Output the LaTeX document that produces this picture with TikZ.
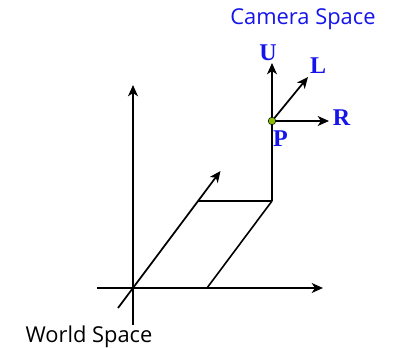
\documentclass[tikz,border=0pt]{standalone}
\usepackage{fontspec}
\usetikzlibrary{arrows.meta}
\setmainfont{Open Sans}
\newfontfamily\axisfont{Liberation Serif}
\definecolor{spaceblue}{RGB}{20,20,235}
\definecolor{pointgreen}{RGB}{140,190,0}
\begin{document}
\begin{tikzpicture}[
        x=0.75pt, y=-0.75pt, >={Stealth[length=8.5pt, width=7.5pt, inset=2.5pt]},
        axis/.style={->, line width=1.3pt},
        edge/.style={line width=1.2pt},
        spacelbl/.style={font=\fontsize{16.4}{18}\selectfont, inner sep=0pt, anchor=base},
        axislbl/.style={font=\fontsize{18}{20}\selectfont\axisfont\bfseries, text=spaceblue, inner sep=0pt, anchor=base}
    ]
        \useasboundingbox (0,0) rectangle (399,348);

        \coordinate (world_o) at (133,288);
        \coordinate (world_left) at (97,288);
        \coordinate (world_right) at (323,288);
        \coordinate (world_bottom) at (133,325);
        \coordinate (world_top) at (133,85);
        \coordinate (world_back) at (118,308);
        \coordinate (world_front) at (220.5,171);
        \coordinate (foot_z) at (198,201);
        \coordinate (foot_x) at (207,288);
        \coordinate (corner) at (272,201);
        \coordinate (cam_u) at (272,63);
        \coordinate (cam_r) at (329,121);
        \coordinate (cam_l) at (308,77);
        \coordinate (cam_p) at (272,121);

        \draw[axis] (world_left) -- (world_right);
        \draw[axis] (world_bottom) -- (world_top);
        \draw[axis] (world_back) -- (world_front);
        \draw[edge] (foot_z) -- (corner);
        \draw[edge] (foot_x) -- (corner);

        \draw[axis] (corner) -- (cam_u);
        \draw[axis] (cam_p) -- (cam_r);
        \draw[axis] (cam_p) -- (cam_l);
        \fill[pointgreen, draw=black, line width=0.4pt] (cam_p) circle (3.8);

        \node[spacelbl, text=spaceblue] (camera_title) at (303,25) {Camera Space};
        \node[spacelbl, text=black] (world_title) at (89,342) {World Space};
        \node[axislbl] (u_lbl) at (268,61) {U};
        \node[axislbl] (l_lbl) at (318,74) {L};
        \node[axislbl] (r_lbl) at (341.5,126) {R};
        \node[axislbl] (p_lbl) at (280.5,147) {P};
    \end{tikzpicture}
\end{document}
